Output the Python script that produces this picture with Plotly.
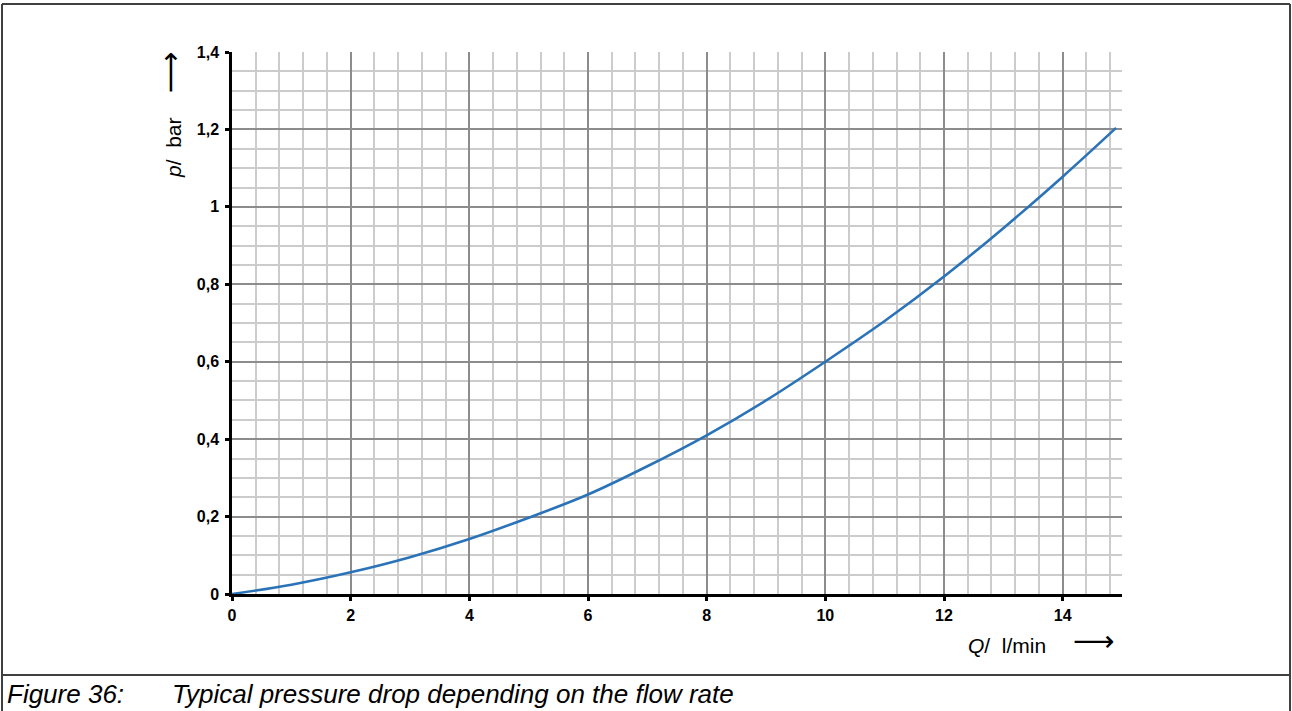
import plotly.graph_objects as go

# flow rate Q (l/min) and pressure drop p (bar)
flow = [0, 1, 2, 3, 4, 5, 6, 7, 8, 9, 10, 11, 12, 13, 14, 14.9]
pressure = [0.0, 0.024, 0.056, 0.095, 0.142, 0.197, 0.257, 0.33, 0.41, 0.50,
            0.60, 0.705, 0.82, 0.945, 1.078, 1.204]

x_ticks = [0, 2, 4, 6, 8, 10, 12, 14]
x_labels = ["0", "2", "4", "6", "8", "10", "12", "14"]
y_ticks = [0, 0.2, 0.4, 0.6, 0.8, 1.0, 1.2, 1.4]
y_labels = ["0", "0,2", "0,4", "0,6", "0,8", "1", "1,2", "1,4"]

caption_num = "Figure 36:"
caption_text = "Typical pressure drop depending on the flow rate"

W, H = 1292, 711
L, R, T, B = 232, 170, 52, 117
pw, ph = W - L - R, H - T - B


def px(x):
    return (x - L) / pw


def py(y):
    return (H - B - y) / ph


fig = go.Figure()
fig.add_trace(go.Scatter(
    x=flow, y=pressure, mode="lines", line_shape="spline",
    line=dict(color="#2b73b9", width=2.6), hoverinfo="x+y",
))

tickfont = dict(family="Liberation Sans, Arial", size=16, color="black", weight="bold")
axis_style = dict(
    tickfont=tickfont, showgrid=True, gridcolor="#8c8c8c", gridwidth=1.5,
    showline=True, linecolor="black", linewidth=2.5,
    ticks="outside", ticklen=4, tickwidth=3, tickcolor="black", zeroline=False,
)
fig.update_xaxes(
    range=[0, 15], tickvals=x_ticks, ticktext=x_labels, ticklabelstandoff=1,
    minor=dict(dtick=0.4, tick0=0, showgrid=True, gridcolor="#cccccc", gridwidth=1.5),
    **axis_style,
)
fig.update_yaxes(
    range=[0, 1.4], tickvals=y_ticks, ticktext=y_labels, ticklabelstandoff=3,
    minor=dict(dtick=0.05, tick0=0, showgrid=True, gridcolor="#cccccc", gridwidth=1.5),
    **axis_style,
)

titlefont = dict(family="Liberation Sans, Arial", size=21, color="black")
arrowfont = dict(family="DejaVu Sans", size=29, color="black")
capfont = dict(family="Liberation Sans, Arial", size=26, color="black", style="italic")
annotations = [
    dict(x=px(1007), y=py(645), text="<i>Q</i>/  l/min", font=titlefont),
    dict(x=px(1094), y=py(641), text="⟶", font=arrowfont),
    dict(x=px(173), y=py(148), text="<i>p</i>/  bar", textangle=-90, font=titlefont),
    dict(x=px(170), y=py(72), text="⟶", textangle=-90, font=arrowfont),
    dict(x=px(5), y=py(694), text=caption_num, xanchor="left", font=capfont),
    dict(x=px(170), y=py(694), text=caption_text, xanchor="left", font=capfont),
]
for a in annotations:
    a.setdefault("xanchor", "center")
    a.update(xref="paper", yref="paper", yanchor="middle", showarrow=False)

frame = dict(color="#404040", width=2)
shapes = [
    dict(type="line", x0=px(2), x1=px(1290), y0=py(4), y1=py(4), line=frame),
    dict(type="line", x0=px(2), x1=px(2), y0=py(4), y1=py(711), line=frame),
    dict(type="line", x0=px(1290), x1=px(1290), y0=py(4), y1=py(711), line=frame),
    dict(type="line", x0=px(2), x1=px(1290), y0=py(675), y1=py(675), line=frame),
]
for s in shapes:
    s.update(xref="paper", yref="paper")

fig.update_layout(
    width=W, height=H, margin=dict(l=L, r=R, t=T, b=B),
    paper_bgcolor="white", plot_bgcolor="white",
    showlegend=False, separators=", ",
    annotations=annotations, shapes=shapes,
)

fig.write_html("out.html", config={"displayModeBar": False},
               post_script="document.body.style.margin='0';")
